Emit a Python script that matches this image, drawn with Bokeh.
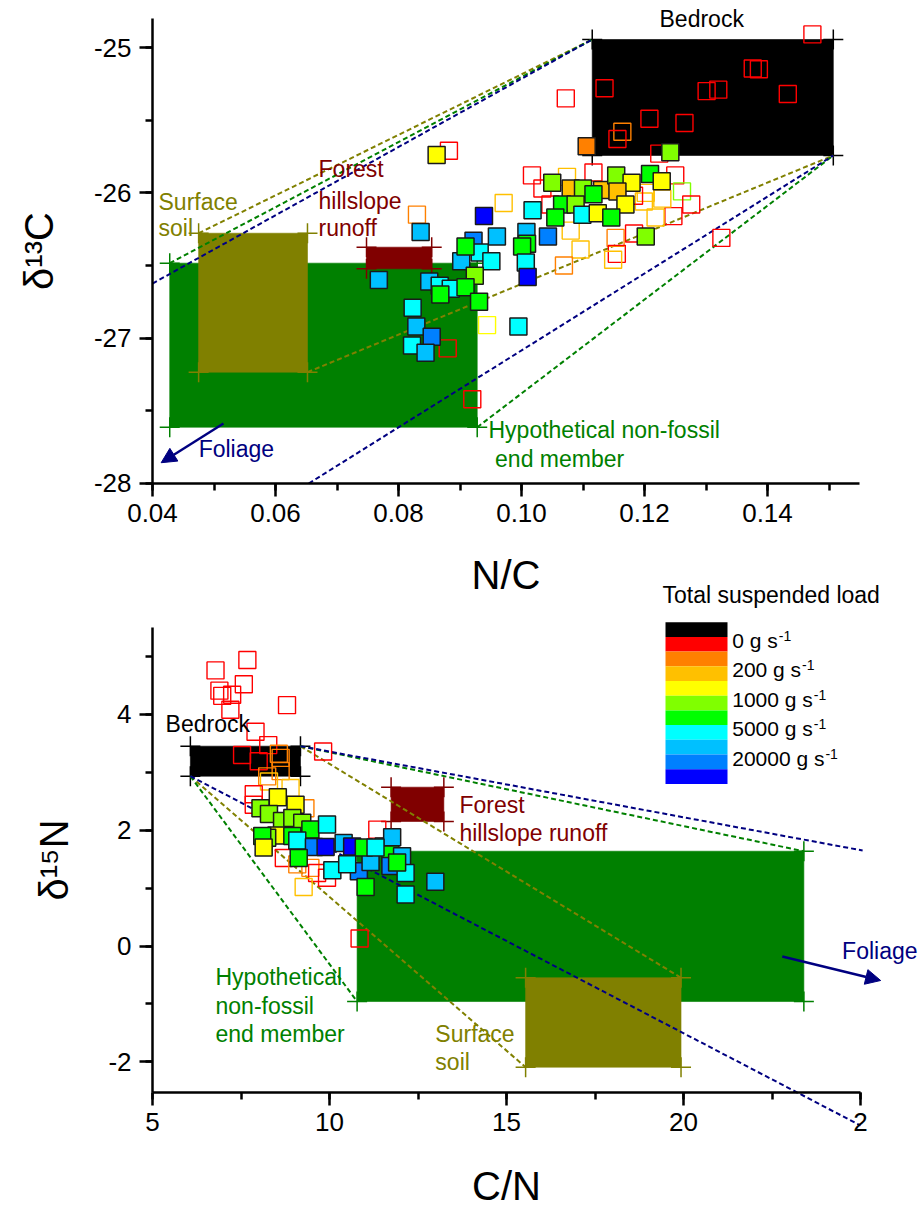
from bokeh.plotting import figure
from bokeh.models import (Range1d, LinearAxis, SingleIntervalTicker, PrintfTickFormatter,
                          Arrow, NormalHead)
from bokeh.embed import file_html
from bokeh.resources import INLINE
from bokeh.core.properties import value

FONT = "Liberation Sans"

# ---------------- colour classes of total suspended load ----------------
LOAD_COLORS = ["#000000", "#FF0000", "#FF8000", "#FFC000", "#FFFF00", "#80FF00",
               "#00FF00", "#00FFFF", "#00C0FF", "#0080FF", "#0000FF"]
LEGEND_LABELS = ["0 g s", "200 g s", "1000 g s", "5000 g s", "20000 g s"]
LEGEND_ROWS = [1, 3, 5, 7, 9]   # colour-row boundary under each label

# ---------------- panel 1: N/C vs d13C ----------------
nc_filled = [0.1106, 0.1242, 0.0862, 0.1050, 0.1080, 0.1100, 0.1131, 0.1154, 0.1179, 0.1209,
             0.1228, 0.1156, 0.1117, 0.1066, 0.1088, 0.1169, 0.1099, 0.1124, 0.1146, 0.1055,
             0.1018, 0.0939, 0.1008, 0.1043, 0.1009, 0.1001, 0.1202, 0.1007, 0.1010, 0.0836,
             0.0960, 0.0922, 0.0932, 0.0951, 0.0902, 0.0909, 0.0924, 0.0850, 0.0867, 0.0885,
             0.0909, 0.0868, 0.0931, 0.0823, 0.0768, 0.0829, 0.0854, 0.0822, 0.0844, 0.0995]
d13c_filled = [-25.68, -25.72, -25.74, -25.93, -25.97, -25.97, -25.98, -25.88, -25.93, -25.87,
               -25.92, -25.99, -26.01, -26.08, -26.08, -26.08, -26.15, -26.14, -26.17, -26.17,
               -26.12, -26.16, -26.27, -26.30, -26.35, -26.37, -26.30, -26.48, -26.58, -26.27,
               -26.30, -26.33, -26.41, -26.47, -26.47, -26.37, -26.57, -26.61, -26.64, -26.66,
               -26.65, -26.70, -26.75, -26.79, -26.60, -26.92, -26.99, -27.05, -27.10, -26.92]
cls_filled = [2, 5, 4, 5, 3, 5, 3, 5, 4, 6,
              4, 3, 6, 6, 5, 4, 7, 4, 6, 6,
              7, 10, 8, 9, 6, 6, 5, 7, 10, 8,
              8, 9, 7, 7, 8, 6, 5, 8, 7, 7,
              6, 6, 6, 7, 8, 8, 9, 7, 8, 7]

nc_open = [0.1473, 0.1135, 0.1376, 0.1386, 0.1301, 0.1320, 0.1433, 0.1072, 0.1208, 0.1265,
           0.1164, 0.1156, 0.1224, 0.0882, 0.1017, 0.1117, 0.1034, 0.1250, 0.1261, 0.1276,
           0.1247, 0.0971, 0.0830, 0.1325, 0.1202, 0.1229, 0.1218, 0.1199, 0.1183, 0.1153,
           0.1155, 0.1149, 0.1096, 0.1080, 0.1069, 0.1074, 0.1047, 0.1183, 0.0944, 0.0880,
           0.0920]
d13c_open = [-24.91, -25.28, -25.145, -25.15, -25.30, -25.29, -25.32, -25.35, -25.49, -25.52,
             -25.58, -25.63, -25.73, -25.71, -25.88, -25.86, -25.97, -25.88, -25.99, -26.08,
             -26.16, -26.07, -26.15, -26.31, -26.00, -26.04, -26.17, -26.06, -26.28, -26.31,
             -26.42, -26.46, -26.39, -26.26, -26.50, -25.89, -26.08, -26.02, -26.91, -27.07,
             -27.42]
cls_open = [1, 1, 1, 1, 1, 1, 1, 1, 1, 1,
            2, 1, 1, 1, 1, 1, 1, 1, 5, 1,
            1, 3, 2, 1, 3, 3, 3, 3, 1, 2,
            1, 3, 3, 3, 2, 3, 1, 1, 4, 1,
            1]

# end members (panel 1): Bedrock, Surface soil, Forest runoff, Non-fossil
em_nc_lo = [0.1115, 0.0475, 0.0748, 0.0428]
em_nc_hi = [0.1507, 0.0652, 0.0854, 0.0928]
em_d13c_lo = [-25.743, -27.234, -26.523, -27.613]
em_d13c_hi = [-24.945, -26.278, -26.374, -26.484]
# foliage mixing lines where they enter panel 1
fol_nc = [0.0400, 0.0654]
fol_d13c = [-26.624, -28.000]

# ---------------- panel 2: C/N vs d15N ----------------
cn_filled = [8.54, 8.05, 9.04, 8.29, 8.66, 8.95, 9.23, 9.46, 9.93, 8.50,
             8.24, 8.10, 8.14, 8.95, 9.09, 9.56, 9.89, 9.13, 10.40, 10.64,
             10.08, 10.83, 11.16, 11.53, 11.77, 11.72, 11.72, 12.05, 12.15, 10.97,
             11.30, 12.99, 12.15, 11.02, 11.91, 10.50]
d15n_filled = [2.57, 2.38, 2.44, 2.28, 2.16, 2.21, 2.13, 2.01, 2.10, 1.91,
               1.87, 1.90, 1.70, 1.90, 1.82, 1.71, 1.71, 1.52, 1.78, 1.72,
               1.31, 1.29, 1.45, 1.72, 1.88, 1.58, 1.38, 1.55, 1.26, 1.70,
               1.70, 1.11, 0.89, 1.02, 1.44, 1.41]
cls_bfilled = [4, 5, 4, 5, 5, 5, 5, 6, 7, 4,
               5, 6, 4, 6, 7, 9, 10, 6, 8, 10,
               7, 9, 8, 7, 8, 6, 9, 8, 7, 6,
               7, 8, 7, 6, 6, 7]

cn_open = [7.68, 6.78, 7.58, 6.89, 6.97, 7.25, 7.20, 8.80, 7.91, 8.27,
           9.82, 7.53, 8.00, 8.62, 8.57, 8.62, 8.24, 8.29, 8.90, 7.86,
           7.86, 9.32, 11.35, 8.71, 9.46, 9.65, 9.27, 9.09, 9.93, 10.85]
d15n_open = [4.94, 4.76, 4.52, 4.41, 4.32, 4.34, 4.08, 4.16, 3.70, 3.47,
             3.36, 3.30, 3.19, 3.25, 3.32, 3.02, 2.93, 2.84, 2.73, 2.62,
             2.44, 2.38, 2.01, 1.52, 1.35, 1.26, 1.02, 1.41, 1.18, 0.13]
cls_bopen = [1, 1, 1, 1, 1, 1, 1, 1, 1, 1,
             1, 1, 1, 2, 2, 2, 2, 3, 3, 1,
             1, 2, 1, 1, 2, 1, 3, 2, 1, 1]

# end members (panel 2): Bedrock, Surface soil, Forest runoff, Non-fossil
em_cn_lo = [6.07, 15.54, 11.74, 10.78]
em_cn_hi = [9.18, 19.93, 13.23, 23.40]
em_d15n_lo = [2.933, -2.093, 2.150, -0.959]
em_d15n_hi = [3.451, -0.549, 2.743, 1.637]
fol_cn = [25.06, 25.00]
fol_d15n = [1.649, -3.100]

EM_COLORS = ["#000000", "#808000", "#800000", "#008000"]
DRAW_ORDER = [3, 1, 2, 0]   # non-fossil box at the back
NAVY = "#000080"

# ---------------- figure (one canvas, two coordinate systems) ----------------
W, H = 920, 1210
p = figure(width=W, height=H, output_backend="svg", toolbar_location=None, tools="",
           x_axis_type=None, y_axis_type=None, min_border=0,
           x_range=Range1d(5 - 152 / 35.4, 5 + 768 / 35.4),
           y_range=Range1d((945.5 - H) / 57.9, 945.5 / 57.9))
p.extra_x_ranges = {"nc": Range1d(0.04 - 152 / 6150, 0.04 + 768 / 6150)}
p.extra_y_ranges = {"d13c": Range1d(-25 - (H - 47) / 145.33, -25 + 47 / 145.33)}
p.outline_line_color = None
p.background_fill_color = "white"
p.border_fill_color = "white"

TOP = dict(x_range_name="nc", y_range_name="d13c")


def style_axis(ax, label_standoff):
    ax.axis_line_width = 2.5
    ax.axis_line_color = "black"
    ax.major_tick_line_width = 2.5
    ax.minor_tick_line_width = 2.5
    ax.major_tick_out = 13
    ax.major_tick_in = 0
    ax.minor_tick_out = 7
    ax.minor_tick_in = 0
    ax.major_label_text_font = FONT
    ax.major_label_text_font_size = "26px"
    ax.major_label_text_color = "black"
    ax.major_label_standoff = 8
    ax.axis_label_text_font = FONT
    ax.axis_label_text_font_size = "40px"
    ax.axis_label_text_font_style = "normal"
    ax.axis_label_text_color = "black"
    ax.axis_label_standoff = label_standoff


ax1 = LinearAxis(x_range_name="nc", y_range_name="d13c", fixed_location=-28.0,
                 bounds=(0.04, 0.155), axis_label="N/C",
                 ticker=SingleIntervalTicker(interval=0.02, num_minor_ticks=2),
                 formatter=PrintfTickFormatter(format="%.2f"))
style_axis(ax1, 27)
p.add_layout(ax1, "below")
ay1 = LinearAxis(x_range_name="nc", y_range_name="d13c", fixed_location=0.04,
                 bounds=(-28.0, -24.8), axis_label="δ¹³C",
                 ticker=SingleIntervalTicker(interval=1, num_minor_ticks=2),
                 formatter=PrintfTickFormatter(format="%d"))
style_axis(ay1, 30)
p.add_layout(ay1, "left")
ax2 = LinearAxis(fixed_location=-2.53, bounds=(5, 25), axis_label="C/N",
                 ticker=SingleIntervalTicker(interval=5, num_minor_ticks=2),
                 formatter=PrintfTickFormatter(format="%d"),
                 major_label_overrides={25: "2"})
style_axis(ax2, 29)
p.add_layout(ax2, "below")
ay2 = LinearAxis(fixed_location=5, bounds=(-2.53, 5.5), axis_label="δ¹⁵N",
                 ticker=SingleIntervalTicker(interval=2, num_minor_ticks=2),
                 formatter=PrintfTickFormatter(format="%d"))
style_axis(ay2, 29)
p.add_layout(ay2, "left")

# ---------------- end-member boxes with corner crosses ----------------
def draw_boxes(lo_x, hi_x, lo_y, hi_y, kw):
    for i in DRAW_ORDER:
        xs = [lo_x[i], lo_x[i], hi_x[i], hi_x[i]]
        ys = [lo_y[i], hi_y[i], lo_y[i], hi_y[i]]
        p.scatter(xs, ys, marker="cross", size=20, line_color=EM_COLORS[i],
                  line_width=1.5, **kw)
        p.quad(left=[lo_x[i]], right=[hi_x[i]], bottom=[lo_y[i]], top=[hi_y[i]],
               fill_color=EM_COLORS[i], line_color=EM_COLORS[i], line_alpha=0.6, **kw)

draw_boxes(em_nc_lo, em_nc_hi, em_d13c_lo, em_d13c_hi, TOP)
draw_boxes(em_cn_lo, em_cn_hi, em_d15n_lo, em_d15n_hi, {})

# ---------------- mixing lines ----------------
DASH = "5 3"
seg_x0, seg_y0, seg_x1, seg_y1, seg_c = [], [], [], [], []
for k, col in ((1, "#808000"), (3, "#008000")):
    seg_x0 += [em_nc_lo[k], em_nc_hi[k]]; seg_y0 += [em_d13c_hi[k], em_d13c_lo[k]]
    seg_x1 += [em_nc_lo[0], em_nc_hi[0]]; seg_y1 += [em_d13c_hi[0], em_d13c_lo[0]]
    seg_c += [col, col]
seg_x0 += fol_nc; seg_y0 += fol_d13c
seg_x1 += [em_nc_lo[0], em_nc_hi[0]]; seg_y1 += [em_d13c_hi[0], em_d13c_lo[0]]
seg_c += [NAVY, NAVY]
p.segment(seg_x0, seg_y0, seg_x1, seg_y1, line_color=seg_c, line_width=2,
          line_dash=DASH, **TOP)

s2x0, s2y0, s2x1, s2y1, s2c = [], [], [], [], []
for k, col in ((1, "#808000"), (3, "#008000")):
    s2x0 += [em_cn_lo[0], em_cn_hi[0]]; s2y0 += [em_d15n_lo[0], em_d15n_hi[0]]
    s2x1 += [em_cn_lo[k], em_cn_hi[k]]; s2y1 += [em_d15n_lo[k], em_d15n_hi[k]]
    s2c += [col, col]
s2x0 += [em_cn_hi[0], em_cn_lo[0]]; s2y0 += [em_d15n_hi[0], em_d15n_lo[0]]
s2x1 += fol_cn; s2y1 += fol_d15n
s2c += [NAVY, NAVY]
p.segment(s2x0, s2y0, s2x1, s2y1, line_color=s2c, line_width=2, line_dash=DASH)

# ---------------- samples ----------------
p.scatter(nc_open, d13c_open, marker="square", size=17, fill_color=None,
          line_color=[LOAD_COLORS[c] for c in cls_open], line_width=1.4, **TOP)
p.scatter(nc_filled, d13c_filled, marker="square", size=17,
          fill_color=[LOAD_COLORS[c] for c in cls_filled],
          line_color="#1a1a1a", line_width=1.5, **TOP)
p.scatter(cn_open, d15n_open, marker="square", size=17, fill_color=None,
          line_color=[LOAD_COLORS[c] for c in cls_bopen], line_width=1.4)
p.scatter(cn_filled, d15n_filled, marker="square", size=17,
          fill_color=[LOAD_COLORS[c] for c in cls_bfilled],
          line_color="#1a1a1a", line_width=1.5)

# ---------------- annotation texts ----------------
def txt(xs, ys, texts, color, align="left", size="23px", **kw):
    p.text(x=xs, y=ys, text=texts, text_color=color, text_font=value(FONT),
           text_font_size=size, text_align=align, text_baseline="middle", **kw)

txt([0.1293], [-24.807], ["Bedrock"], "black", align="center", **TOP)
txt([0.04098, 0.04098], [-26.060, -26.245], ["Surface", "soil"], "#808000", **TOP)
txt([0.0670] * 3, [-25.833, -26.053, -26.239], ["Forest", "hillslope", "runoff"], "#800000", **TOP)
txt([0.09463, 0.0957], [-27.635, -27.830], ["Hypothetical non-fossil", "end member"], "#008000", **TOP)
txt([0.0475], [-27.766], ["Foliage"], NAVY, **TOP)

txt([5.37], [3.826], ["Bedrock"], "black")
txt([13.67, 13.67], [2.427, 1.960], ["Forest", "hillslope runoff"], "#800000")
txt([6.78] * 3, [-0.539, -1.028, -1.516], ["Hypothetical", "non-fossil", "end member"], "#008000")
txt([12.99, 12.99], [-1.516, -2.007], ["Surface", "soil"], "#808000")
txt([24.48], [-0.078], ["Foliage"], NAVY)

p.add_layout(Arrow(end=NormalHead(size=15, fill_color=NAVY, line_color=NAVY),
                   x_start=0.05154, y_start=-27.587, x_end=0.04141, y_end=-27.857,
                   line_color=NAVY, line_width=2.5, **TOP))
p.add_layout(Arrow(end=NormalHead(size=15, fill_color=NAVY, line_color=NAVY),
                   x_start=22.79, y_start=-0.181, x_end=25.57, y_end=-0.596,
                   line_color=NAVY, line_width=2.5))

# ---------------- colour legend (panel 2 coordinates) ----------------
def bx(px):
    return 5 + (px - 152) / 35.4

def by(py):
    return (945.5 - py) / 57.9

row_h = 14.7
top_py = 621.7
p.quad(left=[bx(665)] * len(LOAD_COLORS), right=[bx(727)] * len(LOAD_COLORS),
       top=[by(top_py + i * row_h) for i in range(len(LOAD_COLORS))],
       bottom=[by(top_py + (i + 1) * row_h) for i in range(len(LOAD_COLORS))],
       fill_color=LOAD_COLORS, line_color=None)
txt([bx(662)], [by(594)], ["Total suspended load"], "black")

EMW = {"0": 0.556, "1": 0.556, "2": 0.556, "5": 0.556, " ": 0.278, "g": 0.556, "s": 0.5}
lab_y = [by(top_py + r * row_h + 3.5) for r in LEGEND_ROWS]
sup_x = [bx(731.7 + sum(EMW[ch] for ch in lab) * 21 + 1) for lab in LEGEND_LABELS]
txt([bx(731.7)] * len(LEGEND_LABELS), lab_y, LEGEND_LABELS, "black", size="21px")
txt(sup_x, [y + 4.5 / 57.9 for y in lab_y], ["-1"] * len(LEGEND_LABELS), "black", size="14px")

open("out.html", "w").write(file_html(p, INLINE))
